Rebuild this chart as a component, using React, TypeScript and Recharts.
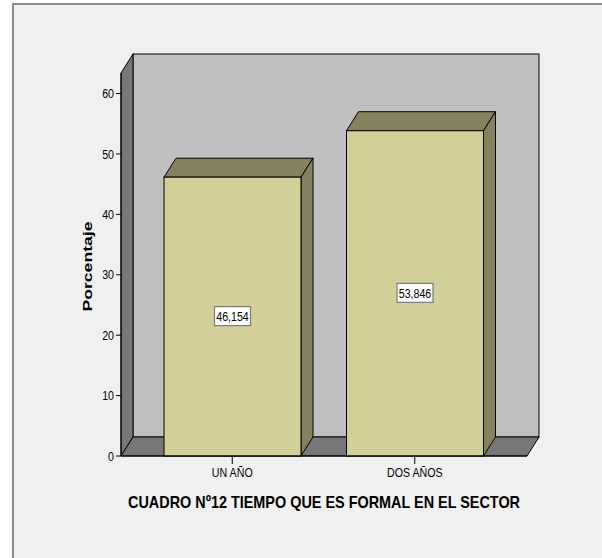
import React from "react";
import { BarChart, Bar, XAxis, YAxis, ReferenceArea, LabelList } from "recharts";

const categories = ["UN AÑO", "DOS AÑOS"];
const percentages = [46.154, 53.846];
const valueLabels = ["46,154", "53,846"];
const yTicks = [0, 10, 20, 30, 40, 50, 60];
const yTop = 63.4;

const data = categories.map((name, i) => ({
  name,
  pct: percentages[i],
  label: valueLabels[i],
}));

// 3d look (depth offset) and the gap between first/last band and the plot edge
const DX = 12;
const DY = 19;
const PAD_L = 20;
const PAD_R = 21;

const font = '"Liberation Sans", Arial, sans-serif';
// SPSS output uses a narrow face; squeeze Liberation Sans horizontally
const SQUEEZE = "scale(0.82,1)";

function Walls(props: any) {
  const { x, y, width, height } = props;
  const L = x - PAD_L;
  const R = x + width + PAD_R;
  const T = y;
  const B = y + height;
  return (
    <g stroke="#000" strokeWidth={1}>
      <rect x={L + DX} y={T - DY} width={R - L} height={B - T} fill="#c0c0c0" />
      <polygon
        points={`${L},${T} ${L + DX},${T - DY} ${L + DX},${B - DY} ${L},${B}`}
        fill="#787878"
      />
      <polygon
        points={`${L},${B} ${L + DX},${B - DY} ${R + DX},${B - DY} ${R},${B}`}
        fill="#787878"
      />
    </g>
  );
}

function Bar3d(props: any) {
  const { x, y, width, height } = props;
  const r = x + width;
  const b = y + height;
  return (
    <g stroke="#000" strokeWidth={1}>
      <polygon
        points={`${x},${y} ${x + DX},${y - DY} ${r + DX},${y - DY} ${r},${y}`}
        fill="#85805e"
      />
      <polygon
        points={`${r},${y} ${r + DX},${y - DY} ${r + DX},${b - DY} ${r},${b}`}
        fill="#85805e"
      />
      <rect x={x} y={y} width={width} height={height} fill="#d3cf98" />
    </g>
  );
}

function ValueBox(props: any) {
  const { x, y, width, height, value } = props;
  const cx = x + width / 2;
  const cy = y + height / 2;
  return (
    <g>
      <rect
        x={cx - 18}
        y={cy - 10}
        width={36}
        height={19}
        fill="#fff"
        stroke="#7a7a7a"
        strokeWidth={1.2}
      />
      <g transform={`translate(${cx},${cy + 4.5})`}>
        <text
          transform={SQUEEZE}
          textAnchor="middle"
          fontFamily={font}
          fontSize={13}
          fill="#000"
        >
          {value}
        </text>
      </g>
    </g>
  );
}

function XTick(props: any) {
  const { x, y, payload } = props;
  return (
    <g transform={`translate(${x},${y})`}>
      <text
        transform={SQUEEZE}
        textAnchor="middle"
        dy="0.75em"
        fontFamily={font}
        fontSize={13}
        fill="#000"
      >
        {payload.value}
      </text>
    </g>
  );
}

function YTick(props: any) {
  const { x, y, payload } = props;
  return (
    <g transform={`translate(${x},${y})`}>
      <text
        transform={SQUEEZE}
        textAnchor="end"
        dy="0.36em"
        fontFamily={font}
        fontSize={13}
        fill="#000"
      >
        {payload.value}
      </text>
    </g>
  );
}

function YTitle(props: any) {
  const { viewBox } = props;
  const cx = viewBox.x + 31;
  const cy = viewBox.y + viewBox.height / 2 + 2;
  return (
    <text
      x={cx}
      y={cy}
      transform={`rotate(-90 ${cx} ${cy})`}
      textAnchor="middle"
      fontFamily={font}
      fontWeight="bold"
      fontSize={13}
      textLength={90}
      lengthAdjust="spacingAndGlyphs"
      fill="#000"
    >
      Porcentaje
    </text>
  );
}

function XTitle(props: any) {
  const { viewBox } = props;
  const cx = viewBox.x + viewBox.width / 2;
  return (
    <text
      x={cx}
      y={viewBox.y + 52}
      textAnchor="middle"
      fontFamily={font}
      fontWeight="bold"
      fontSize={17}
      textLength={392}
      lengthAdjust="spacingAndGlyphs"
      fill="#000"
    >
      CUADRO Nº12 TIEMPO QUE ES FORMAL EN EL SECTOR
    </text>
  );
}

export default function App() {
  return (
    <div
      style={{
        position: "absolute",
        left: 0,
        top: 0,
        width: 602,
        height: 558,
        background: "#fff",
        overflow: "hidden",
      }}
    >
      <div
        style={{
          position: "absolute",
          left: 12,
          top: 3,
          right: -4,
          bottom: -4,
          borderLeft: "2px solid #8c8c8c",
          borderTop: "2px solid #8c8c8c",
          background: "#f0f0f0",
        }}
      />
      <div style={{ position: "absolute", left: 0, top: 0 }}>
        <BarChart
          width={602}
          height={558}
          data={data}
          margin={{ top: 73, right: 75, left: 61, bottom: 72 }}
        >
          <ReferenceArea
            y1={0}
            y2={yTop}
            ifOverflow="visible"
            shape={<Walls />}
          />
          <XAxis
            dataKey="name"
            height={30}
            padding={{ left: PAD_L, right: PAD_R }}
            stroke="#000"
            tickSize={8}
            tickMargin={3}
            tick={<XTick />}
            label={<XTitle />}
          />
          <YAxis
            width={60}
            domain={[0, yTop]}
            ticks={yTicks}
            stroke="#000"
            tickSize={5}
            tickMargin={2}
            tick={<YTick />}
            label={<YTitle />}
          />
          <Bar
            dataKey="pct"
            barSize={137}
            shape={<Bar3d />}
            isAnimationActive={false}
          >
            <LabelList dataKey="label" content={<ValueBox />} />
          </Bar>
        </BarChart>
      </div>
    </div>
  );
}
